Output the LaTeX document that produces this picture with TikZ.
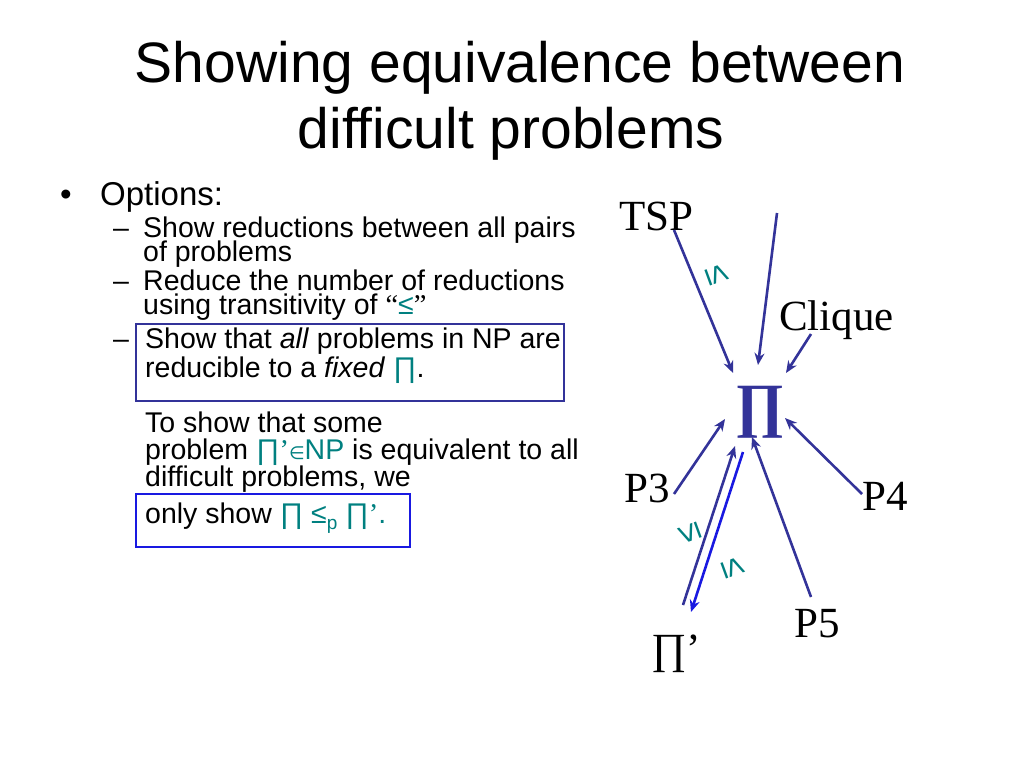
\documentclass[tikz,border=0pt]{standalone}
\usepackage{fontspec}
\setmainfont{Liberation Sans}
\newfontfamily\serif{Liberation Serif}
\newfontfamily\dv{DejaVu Sans}
\usetikzlibrary{arrows.meta}
\definecolor{teal}{RGB}{0,128,128}
\definecolor{indigo}{RGB}{51,51,153}
\definecolor{brightblue}{RGB}{25,25,225}
\tikzset{
  txt/.style={anchor=base west, inner sep=0pt, font=\fontsize{28.5}{30}\selectfont},
  ttl/.style={anchor=base, inner sep=0pt, font=\fontsize{57}{60}\selectfont},
  lbl/.style={anchor=base west, inner sep=0pt, font=\serif\fontsize{43}{45}\selectfont},
  rel/.style={inner sep=0pt, text=teal, font=\fontsize{34}{34}\selectfont},
  arr/.style={draw=indigo, line width=2.6pt, -{Stealth[length=12pt,width=10pt]}},
  box/.style={line width=2.6pt}
}
\newcommand{\tl}[1]{\textcolor{teal}{#1}}
\begin{document}
\begin{tikzpicture}[x=1pt,y=-1pt]
\useasboundingbox (0,0) rectangle (1024,768);
% title
\node[ttl] (t1) at (520,82) {Showing equivalence between};
\node[ttl] (t2) at (511,148) {difficult problems};
% bullets
\node[txt, font=\fontsize{33}{34}\selectfont] (b0) at (60,205) {•};
\node[txt, font=\fontsize{33}{34}\selectfont] (opt) at (100,205) {Options:};
\node[txt] (d1) at (113,237) {–};
\node[txt] (l1) at (143,237) {Show reductions between all pairs};
\node[txt] (l2) at (143,261) {of problems};
\node[txt] (d2) at (113,290) {–};
\node[txt] (l3) at (143,290) {Reduce the number of reductions};
\node[txt] (l4) at (143,314) {using transitivity of {\serif“}\tl{≤}{\serif”}};
\node[txt] (d3) at (113,348) {–};
\node[txt] (l5) at (145,348) {Show that \textit{all} problems in NP are};
\node[txt] (l6) at (145,377) {reducible to a \textit{fixed} \tl{∏}.};
\draw[box, draw=indigo] (136,324) rectangle (564,401);
\node[txt] (l7) at (145,432) {To show that some};
\node[txt] (l8) at (145,459) {problem \tl{∏{\serif’}{\dv\fontsize{18}{18}\selectfont∈}NP} is equivalent to all};
\node[txt] (l9) at (145,486) {difficult problems, we};
\draw[box, draw=brightblue] (136,494) rectangle (410,547);
\node[txt] (l10) at (145,523) {only show \tl{∏ ≤\raisebox{-6pt}{\fontsize{19}{19}\selectfont p} ∏{\serif’}.}};
% diagram
\node[lbl] (TSP) at (619,230) {TSP};
\node[lbl] (Clique) at (779,330) {Clique};
\node[lbl] (P3) at (624,502) {P3};
\node[lbl] (P4) at (862,510) {P4};
\node[lbl] (P5) at (794,637) {P5};
\node[lbl] (Pip) at (651,663) {∏’};
\node[lbl, text=indigo, font=\serif\bfseries\fontsize{60}{62}\selectfont] (Pi) at (735,425) {∏};
% arrow end points
\coordinate (tspo) at (674,230); \coordinate (tspi) at (733,373);
\coordinate (topo) at (777,213); \coordinate (topi) at (758,365);
\coordinate (clo) at (811,334);  \coordinate (cli) at (786,373);
\coordinate (p3o) at (674,494);  \coordinate (p3i) at (725,419);
\coordinate (p4o) at (862,494);  \coordinate (p4i) at (785,418);
\coordinate (p5o) at (811,597);  \coordinate (p5i) at (752,437);
\coordinate (ppo) at (683,605);  \coordinate (ppi) at (735,446);
\coordinate (dno) at (743,452);  \coordinate (dni) at (691,612);
\draw[arr] (tspo) -- (tspi);
\draw[arr] (topo) -- (topi);
\draw[arr] (clo) -- (cli);
\draw[arr] (p3o) -- (p3i);
\draw[arr] (p4o) -- (p4i);
\draw[arr] (p5o) -- (p5i);
\draw[arr] (ppo) -- (ppi);
\draw[arr, draw=brightblue] (dno) -- (dni);
% relation labels
\node[rel, rotate=-70] (r1) at (717,275) {≤};
\node[rel, rotate=110] (r2) at (690,533) {≤};
\node[rel, rotate=-70] (r3) at (733,568) {≤};
\end{tikzpicture}
\end{document}
